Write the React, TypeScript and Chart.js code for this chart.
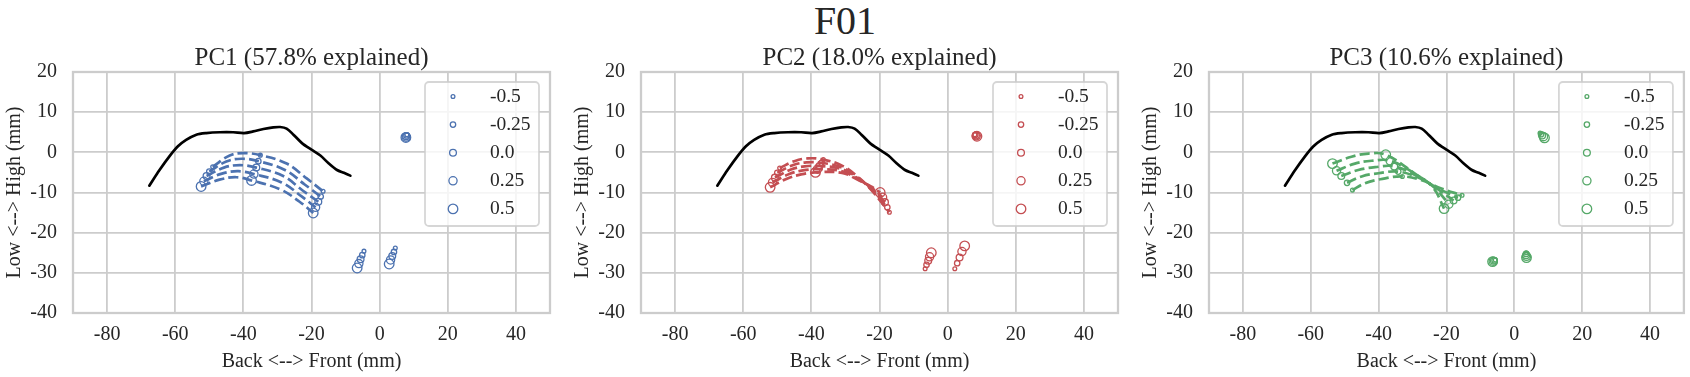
import React, { useEffect, useRef } from 'react';
import { Chart, registerables } from 'chart.js';

Chart.register(...registerables);

// ---------------- data ----------------
const SUPTITLE = 'F01';
const PANEL_TITLES = ['PC1 (57.8% explained)', 'PC2 (18.0% explained)', 'PC3 (10.6% explained)'];
const X_LABEL = 'Back <--> Front (mm)';
const Y_LABEL = 'Low <--> High (mm)';
const X_TICKS = [-80, -60, -40, -20, 0, 20, 40];
const Y_TICKS = [-40, -30, -20, -10, 0, 10, 20];
const X_MIN = -90;
const X_MAX = 50;
const Y_MIN = -40;
const Y_MAX = 20;
const LEVEL_LABELS = ['-0.5', '-0.25', '0.0', '0.25', '0.5'];

// palate outline (same in every panel)
const PALATE_X = [-67.6, -64.6, -61.7, -59.2, -56.8, -53.8, -50.9, -46.9, -43.0, -39.8, -37.1, -34.1, -31.2, -29.2, -27.3, -25.3, -22.8, -19.9, -17.4, -15.0, -12.5, -10.5, -8.6];
const PALATE_Y = [-8.3, -4.4, -1.0, 1.5, 3.1, 4.4, 4.8, 5.0, 5.0, 4.8, 5.2, 5.8, 6.2, 6.3, 5.9, 4.4, 2.3, 0.6, -0.8, -2.7, -4.4, -5.1, -5.8];

// tongue contours, one row per level (-0.5 .. 0.5)
const PC1_ARC_X = [
  [-49.0, -44.0, -40.0, -35.0, -27.3, -21.4, -16.6],
  [-50.0, -45.0, -40.5, -35.6, -27.8, -22.0, -17.3],
  [-50.8, -45.7, -41.0, -36.2, -28.3, -22.6, -18.0],
  [-51.6, -46.3, -41.5, -36.9, -28.8, -23.0, -18.8],
  [-52.4, -47.0, -42.0, -37.6, -29.2, -23.5, -19.5],
];
const PC1_ARC_Y = [
  [-3.6, -0.8, -0.2, -0.7, -2.8, -6.5, -9.7],
  [-4.8, -2.3, -1.6, -2.2, -4.4, -8.0, -11.0],
  [-5.9, -3.8, -3.2, -3.8, -5.9, -9.5, -12.3],
  [-7.2, -5.3, -4.7, -5.4, -7.5, -10.9, -13.7],
  [-8.5, -6.8, -6.2, -7.0, -9.2, -12.3, -15.1],
];
const PC2_ARC_X = [
  [-49.3, -45.0, -41.0, -36.5, -31.0, -26.5, -22.5, -17.1],
  [-50.0, -45.5, -41.5, -37.0, -31.0, -26.5, -22.5, -17.7],
  [-50.7, -46.0, -42.0, -37.6, -31.0, -26.5, -22.5, -18.4],
  [-51.4, -46.5, -42.5, -38.2, -31.0, -26.5, -22.5, -19.1],
  [-52.1, -47.0, -43.0, -38.8, -31.0, -26.5, -22.5, -19.8],
];
const PC2_ARC_Y = [
  [-3.9, -2.2, -1.5, -1.8, -3.3, -6.0, -9.3, -14.9],
  [-5.1, -3.2, -2.5, -2.6, -3.8, -6.2, -9.1, -13.7],
  [-6.3, -4.3, -3.5, -3.4, -4.2, -6.4, -8.9, -12.4],
  [-7.5, -5.4, -4.5, -4.2, -4.7, -6.6, -8.7, -11.2],
  [-8.7, -6.5, -5.5, -5.0, -5.1, -6.8, -8.5, -10.0],
];
const PC3_ARC_X = [
  [-47.7, -44.0, -39.5, -33.0, -27.5, -21.5, -15.4],
  [-49.3, -45.0, -40.0, -34.2, -28.0, -22.5, -16.6],
  [-51.0, -46.0, -41.0, -35.4, -28.5, -23.0, -17.9],
  [-52.4, -47.0, -42.0, -36.6, -29.0, -23.5, -19.3],
  [-53.6, -48.0, -43.0, -37.9, -29.5, -24.0, -20.7],
];
const PC3_ARC_Y = [
  [-9.4, -7.7, -6.7, -6.0, -6.9, -9.0, -10.7],
  [-7.6, -6.0, -5.2, -4.8, -6.4, -9.0, -11.3],
  [-5.9, -4.4, -3.7, -3.5, -6.0, -8.9, -12.0],
  [-4.6, -2.8, -2.1, -2.1, -5.5, -8.8, -12.9],
  [-2.8, -1.1, -0.3, -0.6, -5.2, -8.7, -14.0],
];

// sensor positions per level: back, mid, front tongue, lower lip, jaw, upper lip
const PC1_SENSOR_X = [
  [-49.0, -35.0, -16.6, -4.6, 4.6, 8.0],
  [-50.0, -35.6, -17.3, -5.1, 4.2, 7.9],
  [-50.8, -36.2, -18.0, -5.6, 3.7, 7.8],
  [-51.6, -36.9, -18.8, -6.1, 3.2, 7.8],
  [-52.4, -37.6, -19.5, -6.6, 2.8, 7.7],
];
const PC1_SENSOR_Y = [
  [-3.6, -0.7, -9.7, -24.6, -23.8, 4.4],
  [-4.8, -2.2, -11.0, -25.6, -24.8, 4.2],
  [-5.9, -3.8, -12.3, -26.6, -25.8, 4.0],
  [-7.2, -5.4, -13.7, -27.7, -26.8, 3.8],
  [-8.5, -7.0, -15.1, -28.8, -27.8, 3.7],
];
const PC2_SENSOR_X = [
  [-49.3, -36.5, -17.1, -6.6, 2.1, 8.0],
  [-50.0, -37.0, -17.7, -6.2, 2.8, 8.1],
  [-50.7, -37.6, -18.4, -5.7, 3.5, 8.3],
  [-51.4, -38.2, -19.1, -5.3, 4.2, 8.4],
  [-52.1, -38.8, -19.8, -4.8, 5.0, 8.6],
];
const PC2_SENSOR_Y = [
  [-3.9, -1.8, -14.9, -29.0, -29.0, 4.4],
  [-5.1, -2.6, -13.7, -28.0, -27.6, 4.3],
  [-6.3, -3.4, -12.4, -27.0, -26.2, 4.2],
  [-7.5, -4.2, -11.2, -26.0, -24.7, 4.1],
  [-8.7, -5.0, -10.0, -25.0, -23.3, 4.0],
];
const PC3_SENSOR_X = [
  [-47.7, -33.0, -15.4, -5.6, 3.5, 7.6],
  [-49.3, -34.2, -16.6, -5.8, 3.5, 7.9],
  [-51.0, -35.4, -17.9, -6.0, 3.5, 8.2],
  [-52.4, -36.6, -19.3, -6.2, 3.6, 8.6],
  [-53.6, -37.9, -20.7, -6.4, 3.6, 8.9],
];
const PC3_SENSOR_Y = [
  [-9.4, -6.0, -10.7, -26.8, -25.0, 4.8],
  [-7.6, -4.8, -11.3, -26.9, -25.3, 4.5],
  [-5.9, -3.5, -12.0, -27.0, -25.6, 4.2],
  [-4.6, -2.1, -12.9, -27.1, -25.9, 3.9],
  [-2.8, -0.6, -14.0, -27.2, -26.2, 3.6],
];

const PANELS = [
  { arcX: PC1_ARC_X, arcY: PC1_ARC_Y, senX: PC1_SENSOR_X, senY: PC1_SENSOR_Y },
  { arcX: PC2_ARC_X, arcY: PC2_ARC_Y, senX: PC2_SENSOR_X, senY: PC2_SENSOR_Y },
  { arcX: PC3_ARC_X, arcY: PC3_ARC_Y, senX: PC3_SENSOR_X, senY: PC3_SENSOR_Y },
];

// ---------------- style ----------------
const COLORS = ['#4C72B0', '#C44E52', '#55A868'];
const MARKER_RADII = [1.9, 2.7, 3.4, 4.1, 4.8];
const FONT = '"Liberation Serif", "Times New Roman", serif';
const TEXT = '#262626';
const GRID = '#cccccc';
const CANVAS_LEFT = [0, 568, 1136];
const CANVAS_W = [568, 568, 554];
const Y_AXIS_W = 73;
const PLOT_W = 477;
const PLOT_TOP = 72;
const PLOT_BOTTOM = 313;
const H = 377;

const pts = (xs: number[], ys: number[]) => xs.map((x, i) => ({ x, y: ys[i] }));

function buildConfig(p: number): any {
  const panel = PANELS[p];
  const color = COLORS[p];
  const datasets: any[] = [];
  for (let l = 0; l < LEVEL_LABELS.length; l++) {
    datasets.push({
      type: 'scatter',
      label: LEVEL_LABELS[l],
      data: pts(panel.senX[l], panel.senY[l]),
      showLine: false,
      pointStyle: 'circle',
      pointRadius: MARKER_RADII[l],
      pointHoverRadius: MARKER_RADII[l],
      pointBorderColor: color,
      pointBackgroundColor: 'rgba(0,0,0,0)',
      pointBorderWidth: 1.3,
    });
  }
  for (let l = 0; l < LEVEL_LABELS.length; l++) {
    datasets.push({
      type: 'line',
      label: 'contour ' + LEVEL_LABELS[l],
      data: pts(panel.arcX[l], panel.arcY[l]),
      borderColor: color,
      borderWidth: 2.7,
      borderDash: [10, 4.3],
      pointRadius: 0,
      tension: 0.4,
      fill: false,
    });
  }
  datasets.push({
    type: 'line',
    label: 'palate',
    data: pts(PALATE_X, PALATE_Y),
    borderColor: '#000000',
    borderWidth: 2.7,
    borderJoinStyle: 'round',
    borderCapStyle: 'round',
    pointRadius: 0,
    tension: 0.3,
    fill: false,
  });

  const framePlugin = {
    id: 'frame' + p,
    beforeDatasetsDraw(chart: any) {
      const { ctx, chartArea: a } = chart;
      ctx.save();
      ctx.strokeStyle = GRID;
      ctx.lineWidth = 2.3;
      ctx.strokeRect(a.left, a.top, a.right - a.left, a.bottom - a.top);
      ctx.restore();
    },
  };

  const titlePlugin = {
    id: 'axTitle' + p,
    afterDraw(chart: any) {
      const { ctx, chartArea: a } = chart;
      ctx.save();
      ctx.font = '25px ' + FONT;
      ctx.fillStyle = TEXT;
      ctx.textAlign = 'center';
      ctx.textBaseline = 'alphabetic';
      ctx.fillText(PANEL_TITLES[p], (a.left + a.right) / 2, a.top - 7);
      ctx.restore();
    },
  };

  const legendPlugin = {
    id: 'boxLegend' + p,
    afterDraw(chart: any) {
      const { ctx, chartArea: a } = chart;
      const w = 114;
      const h = 144;
      const bx = a.right - 11 - w;
      const by = a.top + 10;
      ctx.save();
      ctx.beginPath();
      (ctx as any).roundRect(bx, by, w, h, 4);
      ctx.fillStyle = 'rgba(255,255,255,0.8)';
      ctx.fill();
      ctx.strokeStyle = 'rgba(204,204,204,0.8)';
      ctx.lineWidth = 1.8;
      ctx.stroke();
      ctx.font = '19.5px ' + FONT;
      ctx.textAlign = 'left';
      ctx.textBaseline = 'middle';
      const items = chart.data.datasets.filter((d: any) => d.type === 'scatter');
      items.forEach((d: any, i: number) => {
        const cy = by + 14.5 + 28.1 * i;
        ctx.beginPath();
        ctx.arc(bx + 28, cy, d.pointRadius, 0, Math.PI * 2);
        ctx.strokeStyle = d.pointBorderColor;
        ctx.lineWidth = 1.3;
        ctx.stroke();
        ctx.fillStyle = TEXT;
        ctx.fillText(d.label, bx + 65, cy);
      });
      ctx.restore();
    },
  };

  const tickFont = { family: FONT, size: 20 };
  return {
    type: 'scatter',
    data: { datasets },
    plugins: [framePlugin, titlePlugin, legendPlugin],
    options: {
      responsive: false,
      animation: false,
      devicePixelRatio: 1,
      events: [],
      layout: { padding: { left: 0, right: CANVAS_W[p] - Y_AXIS_W - PLOT_W, top: PLOT_TOP, bottom: 0 } },
      plugins: {
        legend: { display: false },
        tooltip: { enabled: false },
        title: { display: false },
      },
      scales: {
        x: {
          type: 'linear',
          min: X_MIN,
          max: X_MAX,
          afterBuildTicks: (s: any) => {
            s.ticks = X_TICKS.map((v) => ({ value: v }));
          },
          afterFit: (s: any) => {
            s.height = H - PLOT_BOTTOM;
          },
          grid: { color: GRID, lineWidth: 1.8, drawTicks: false },
          border: { display: false },
          ticks: { padding: 10, color: TEXT, font: tickFont, maxRotation: 0, callback: (v: any) => String(v) },
          title: { display: true, text: X_LABEL, color: TEXT, font: tickFont, padding: { top: 0, bottom: 3 } },
        },
        y: {
          type: 'linear',
          min: Y_MIN,
          max: Y_MAX,
          afterBuildTicks: (s: any) => {
            s.ticks = Y_TICKS.map((v) => ({ value: v }));
          },
          afterFit: (s: any) => {
            s.width = Y_AXIS_W;
          },
          grid: { color: GRID, lineWidth: 1.8, drawTicks: false },
          border: { display: false },
          ticks: { padding: 16, color: TEXT, font: tickFont, callback: (v: any) => String(v) },
          title: { display: true, text: Y_LABEL, color: TEXT, font: tickFont, padding: { top: 3, bottom: 0 } },
        },
      },
    },
  };
}

export default function App() {
  const r0 = useRef<HTMLCanvasElement>(null);
  const r1 = useRef<HTMLCanvasElement>(null);
  const r2 = useRef<HTMLCanvasElement>(null);
  const refs = [r0, r1, r2];

  useEffect(() => {
    let charts: Chart[] = [];
    let cancelled = false;
    const make = () => {
      if (cancelled) return;
      charts = refs.map((r, i) => new Chart(r.current as HTMLCanvasElement, buildConfig(i)));
    };
    const fonts: any = (document as any).fonts;
    if (fonts && fonts.load) {
      Promise.all([fonts.load('20px "Liberation Serif"'), fonts.load('25px "Liberation Serif"')]).then(make, make);
    } else {
      make();
    }
    return () => {
      cancelled = true;
      charts.forEach((c) => c.destroy());
      charts = [];
    };
  }, []);

  return (
    <div style={{ position: 'fixed', left: 0, top: 0, width: 1690, height: H, background: '#ffffff', overflow: 'hidden' }}>
      <div
        style={{
          position: 'absolute',
          left: 0,
          top: 1,
          width: 1690,
          textAlign: 'center',
          fontFamily: FONT,
          fontSize: 40,
          lineHeight: '40px',
          color: TEXT,
        }}
      >
        {SUPTITLE}
      </div>
      {refs.map((r, i) => (
        <canvas
          key={i}
          ref={r}
          width={CANVAS_W[i]}
          height={H}
          style={{ position: 'absolute', left: CANVAS_LEFT[i], top: 0, width: CANVAS_W[i], height: H }}
        />
      ))}
    </div>
  );
}
